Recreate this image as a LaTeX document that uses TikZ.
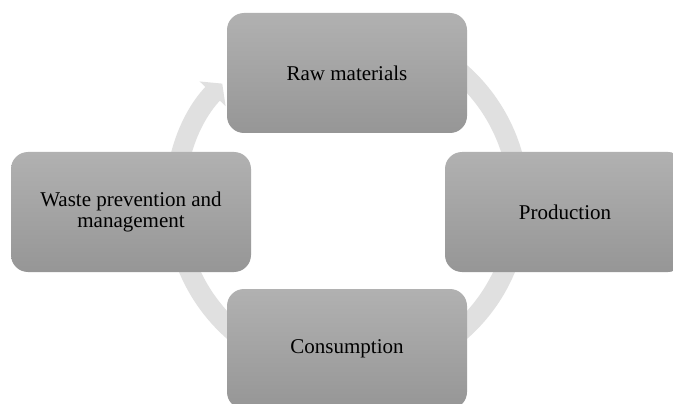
\documentclass[tikz,border=0pt]{standalone}
\usepackage{fontspec}
\setmainfont{Liberation Serif}
\usetikzlibrary{arrows.meta,calc}
\definecolor{arcgray}{HTML}{E0E0E0}
\definecolor{boxtop}{HTML}{B1B1B1}
\definecolor{boxbot}{HTML}{969696}
\tikzset{
  cyclebox/.style={rectangle, rounded corners=17pt, minimum width=240pt, minimum height=120pt,
    inner sep=0pt, top color=boxtop, bottom color=boxbot, draw=none, text=black,
    align=center, font=\fontsize{21}{20.5}\selectfont},
  cyclearc/.style={draw=arcgray, line width=20pt, -{Triangle[width=35pt,length=14pt]}}
}
\begin{document}
\begin{tikzpicture}[x=1pt,y=-1pt]
\useasboundingbox (0,0) rectangle (673,404);
\clip (0,0) rectangle (673,404);
\fill[white] (0,0) rectangle (673,404);
\coordinate (c) at (347,202);
\coordinate (arcstart) at ($(c)+(-70:172)$);
\draw[cyclearc] (arcstart) arc[start angle=-70, end angle=223.5, radius=172];
\node[cyclebox] (raw) at (347,73) {Raw materials};
\node[cyclebox] (prod) at (565,212) {Production};
\node[cyclebox] (cons) at (347,349) {Consumption};
\node[cyclebox] (waste) at (131,212) {Waste prevention and\\management};
\end{tikzpicture}
\end{document}
